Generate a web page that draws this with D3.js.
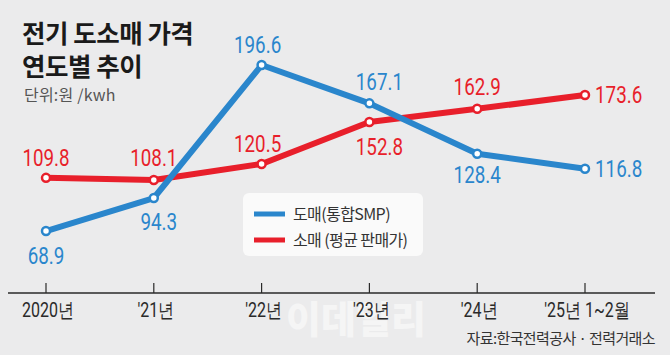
<!DOCTYPE html>
<html><head><meta charset="utf-8">
<script src="https://cdn.jsdelivr.net/npm/d3@7"></script>
<style>
html,body{margin:0;padding:0;background:#ebebec;}
svg{display:block;}
</style></head>
<body>
<svg id="c" width="670" height="355"></svg>
<script>
const categories = ["2020년", "'21년", "'22년", "'23년", "'24년", "'25년 1~2월"];
const wholesale = [68.9, 94.3, 196.6, 167.1, 128.4, 116.8];   // 도매(통합SMP)
const retail = [109.8, 108.1, 120.5, 152.8, 162.9, 173.6];     // 소매 (평균 판매가)
const seriesNames = ["도매(통합SMP)", "소매 (평균 판매가)"];

const W = 670, H = 355;
const svg = d3.select("#c");
const numFont = "Roboto,'Liberation Sans',sans-serif";
const krFont = "'Noto Sans CJK KR','Noto Sans',sans-serif";
const blue = "#2a86cc", red = "#e81f2b";

function condense(sel, f){
  sel.each(function(){
    const len = this.getComputedTextLength();
    d3.select(this).attr("textLength", len*f).attr("lengthAdjust","spacingAndGlyphs");
  });
}

svg.append("rect").attr("width",W).attr("height",H).attr("fill","#ebebec");

const x = d3.scalePoint().domain(categories).range([46, 585]);
const y = d3.scaleLinear().domain([0, 200]).range([320.6, 60.6]);

// watermark
svg.append("text").attr("x", 356).attr("y", 333).attr("text-anchor","middle")
  .attr("font-family", krFont).attr("font-weight","900").attr("font-size", 38)
  .attr("fill","#ffffff").attr("fill-opacity",0.5).text("이데일리");

// title (two lines in one text)
const title = svg.append("text").attr("font-family", krFont).attr("font-weight","700")
  .attr("font-size", 25.5).attr("fill","#1a1a1a").attr("letter-spacing", -0.5);
title.append("tspan").attr("x", 22).attr("y", 43).text("전기 도소매 가격");
title.append("tspan").attr("x", 22).attr("y", 76).text("연도별 추이");
svg.append("text").attr("x", 24).attr("y", 101).attr("font-family", krFont)
  .attr("font-size", 16).attr("fill","#555").attr("letter-spacing", 0.2).text("단위:원 /kwh");

// axis
const axis = d3.axisBottom(x).tickSize(0).tickFormat("");
const gAxis = svg.append("g").attr("transform","translate(0,293)").call(axis);
gAxis.select(".domain").remove();
svg.append("line").attr("x1",8).attr("x2",655).attr("y1",293).attr("y2",293).attr("stroke","#2a2a2a").attr("stroke-width",1.5);
svg.selectAll(".tk").data(categories).enter().append("line")
  .attr("x1", d => x(d)).attr("x2", d => x(d)).attr("y1", 283).attr("y2", 293)
  .attr("stroke","#2a2a2a").attr("stroke-width",1.2);
svg.selectAll(".xl").data(categories).enter().append("text")
  .attr("x", d => x(d) + 2)
  .attr("y", 317).attr("text-anchor","middle")
  .attr("font-family", numFont).attr("font-size", 20).attr("fill","#2a2a2a")
  .text(d => d).call(condense, 0.8);

// source
svg.append("text").attr("x", 655).attr("y", 344).attr("text-anchor","end")
  .attr("font-family", krFont).attr("font-size", 15).attr("fill","#333").attr("letter-spacing",-0.6)
  .text("자료:한국전력공사 · 전력거래소");

// lines
const line = d3.line().x((d,i) => x(categories[i])).y(d => y(d));
function drawSeries(vals, color){
  svg.append("path").datum(vals).attr("d", line).attr("fill","none")
    .attr("stroke", color).attr("stroke-width", 6).attr("stroke-linejoin","round").attr("stroke-linecap","round");
}
drawSeries(retail, red);
drawSeries(wholesale, blue);
function drawMarkers(vals, color){
  svg.selectAll(null).data(vals).enter().append("circle")
    .attr("cx",(d,i)=>x(categories[i])).attr("cy", d=>y(d)).attr("r",4)
    .attr("fill","#fff").attr("stroke",color).attr("stroke-width",2.5);
}
drawMarkers(retail, red);
drawMarkers(wholesale, blue);

// value labels: [dx, dy, anchor]
const wPos = [[0,33,"middle"],[5,32,"middle"],[-4,-12,"middle"],[10,-13,"middle"],[0,29,"middle"],[10,8,"start"]];
const rPos = [[0,-12,"middle"],[0,-14,"middle"],[-4,-12,"middle"],[10,33,"middle"],[0,-14,"middle"],[10,8,"start"]];
function drawLabels(vals, pos, color){
  svg.selectAll(null).data(vals).enter().append("text")
    .attr("x",(d,i)=>x(categories[i]) + pos[i][0])
    .attr("y",(d,i)=>y(d) + pos[i][1])
    .attr("text-anchor",(d,i)=>pos[i][2])
    .attr("font-family", numFont).attr("font-size", 23.5).attr("fill", color)
    .text(d => d.toFixed(1)).call(condense, 0.8);
}
drawLabels(wholesale, wPos, blue);
drawLabels(retail, rPos, red);

// legend
svg.append("rect").attr("x",243).attr("y",193).attr("width",180).attr("height",63).attr("rx",6)
  .attr("fill","#fafafa");
const leg = [[seriesNames[0], blue, 214],[seriesNames[1], red, 240]];
leg.forEach(([t,c,yy]) => {
  svg.append("line").attr("x1",254).attr("x2",285).attr("y1",yy).attr("y2",yy).attr("stroke",c).attr("stroke-width",5);
  svg.append("text").attr("x",293).attr("y",yy+5.5).attr("font-family",krFont).attr("font-size",16)
    .attr("fill","#333").attr("letter-spacing",-0.6).text(t);
});
</script>
</body></html>
